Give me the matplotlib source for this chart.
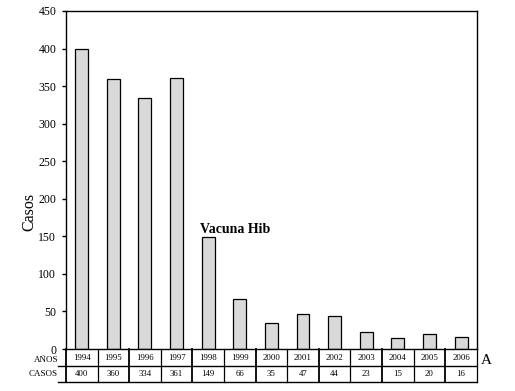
import numpy as np
import matplotlib.pyplot as plt

years = ['1994', '1995', '1996', '1997', '1998', '1999', '2000',
         '2001', '2002', '2003', '2004', '2005', '2006']
cases = [400, 360, 334, 361, 149, 66, 35, 47, 44, 23, 15, 20, 16]
yticks = [0, 50, 100, 150, 200, 250, 300, 350, 400, 450]

plt.rcParams['font.family'] = ['Liberation Serif', 'DejaVu Serif']

fig = plt.figure(figsize=(5.15, 3.91), dpi=100)
ax = fig.add_axes([0.128, 0.1074, 0.798, 0.8645])

x = np.arange(len(years))
ax.bar(x, cases, width=0.41, color='#d9d9d9', edgecolor='black', linewidth=0.9)

ax.set_xlim(-0.5, len(years) - 0.5)
ax.set_ylim(0, 450)
ax.set_yticks(yticks)
ax.tick_params(axis='y', direction='out', length=3, width=1, pad=4, labelsize=8.5)
ax.tick_params(axis='x', bottom=False, labelbottom=False)
for s in ax.spines.values():
    s.set_linewidth(1)
ax.set_ylabel('Casos', fontsize=11.5)
ax.yaxis.set_label_coords(-0.07, 0.405)

ax.text(3.74, 155, 'Vacuna Hib', fontsize=10, fontweight='bold', ha='left', va='baseline')

# data table under the axis
tr = ax.get_xaxis_transform()
r1, r2 = -0.0503, -0.0976
ext = -0.5 - 0.25
ax.plot([ext, len(years) - 0.5], [r1, r1], transform=tr, color='black', lw=1, clip_on=False)
ax.plot([ext, len(years) - 0.5], [r2, r2], transform=tr, color='black', lw=1, clip_on=False)
for k in range(len(years) + 1):
    ax.plot([k - 0.5, k - 0.5], [0, r2], transform=tr, color='black',
            lw=1.3 if k % 2 == 0 else 0.9, clip_on=False)
for i, (yr, c) in enumerate(zip(years, cases)):
    ax.text(i, r1 / 2, yr, transform=tr, ha='center', va='center', fontsize=6.3)
    ax.text(i, (r1 + r2) / 2, str(c), transform=tr, ha='center', va='center', fontsize=6.3)
ax.text(-0.75, r1 / 2 - 0.008, 'AÑOS', transform=tr, ha='right', va='center', fontsize=6.5)
ax.text(-0.75, (r1 + r2) / 2, 'CASOS', transform=tr, ha='right', va='center', fontsize=6.5)
ax.text(len(years) - 0.37, r1 / 2 - 0.008, 'A', transform=tr, ha='left', va='center', fontsize=11)

fig.savefig('out.png', dpi=100)
